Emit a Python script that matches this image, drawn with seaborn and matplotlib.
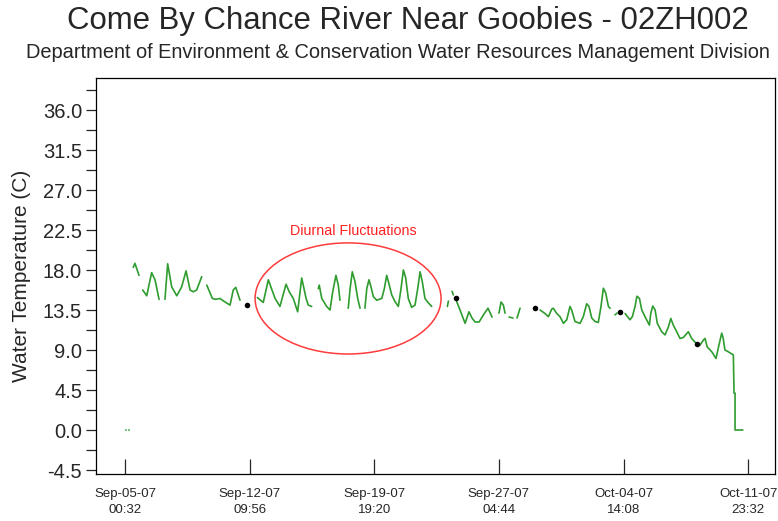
import numpy as np
import pandas as pd
import matplotlib
matplotlib.use('Agg')
import matplotlib.pyplot as plt
import matplotlib.dates as mdates
from matplotlib.patches import Ellipse
import seaborn as sns

sns.set_style('ticks')
plt.rcParams['font.family'] = ['Liberation Sans', 'DejaVu Sans']

nan = np.nan
start = pd.Timestamp('2007-09-05 00:32')

# logger record: days after Sep-05-07 00:32, nan = gap in the record
day = [0.49, 0.59, 0.83, nan,
       1.05, 1.29, 1.58, 1.78, 2.02, nan,
       2.37, 2.53, 2.77, 3.07, 3.36, 3.62, 3.86, 4.05, 4.25, 4.55, nan,
       4.85, 5.18, 5.38, 5.63, 5.93, 6.23, 6.42, 6.57, 6.82, nan,
       7.85, 8.20, 8.50, 8.90, 9.19, 9.55, 9.74, 9.98, 10.24, 10.48, 10.74, 10.87, 11.07, nan,
       11.46, 11.52, 11.67, 11.96, 12.16, 12.32, 12.51, 12.65, 12.75, nan,
       13.24, 13.35, 13.48, 13.64, 13.80, 13.94, nan,
       14.23, 14.34, 14.47, 14.59, 14.73, 14.93, 15.23, 15.38, 15.52, 15.62, 15.82, 16.01,
       16.21, 16.37, 16.51, 16.65, 16.80, 17.00, 17.20, 17.36, 17.50, 17.63, 17.79, 17.99, 18.19, nan,
       19.12, 19.18, nan,
       19.40, 19.47, nan,
       19.67, 19.87, 20.17, 20.40, 20.58, 20.76, 21.00, 21.29, 21.53, 21.77, nan,
       22.18, 22.30, 22.44, 22.54, nan,
       22.78, 23.01, nan,
       23.25, 23.43, nan,
       24.62, 24.91, 25.11, 25.31, 25.40, 25.61, 25.80, 26.00, 26.20, 26.39, 26.49, 26.69,
       26.99, 27.18, 27.38, 27.52, 27.68, 27.88, 28.07, 28.23, 28.37, 28.51, 28.67, 28.77, nan,
       29.06, 29.18, nan,
       29.66, 29.95, 30.09, 30.25, 30.36, 30.51, 30.65, 30.84, 31.10, 31.18, 31.30, 31.44,
       31.57, 31.83, 32.03, 32.23, 32.37, 32.52, 32.72, 32.92, 33.11, 33.41, 33.61, 33.87,
       34.10, 34.30, 34.40, 34.53, 34.80, 35.05, 35.25, 35.39, 35.48, 35.58, 35.78, 36.08,
       36.12, 36.18, 36.18, 36.64]
temp = [18.3, 18.75, 17.4, nan,
        15.75, 15.1, 17.7, 16.9, 14.7, nan,
        14.7, 18.7, 16.1, 15.1, 16.1, 17.9, 15.75, 15.55, 15.75, 17.25, nan,
        16.3, 14.8, 14.7, 14.8, 14.4, 14.05, 15.75, 16.05, 14.6, nan,
        14.9, 14.35, 16.9, 14.8, 13.9, 16.4, 15.55, 14.8, 13.3, 17.1, 14.8, 14.05, 13.9, nan,
        15.9, 16.3, 14.8, 13.9, 13.5, 15.55, 17.4, 16.3, 14.6, nan,
        13.7, 15.9, 17.8, 16.7, 14.8, 13.7, nan,
        13.7, 15.9, 16.9, 16.1, 15.0, 14.6, 14.8, 15.9, 17.4, 16.7, 15.2, 14.45,
        13.9, 15.9, 18.0, 17.1, 14.8, 13.8, 14.05, 15.9, 17.8, 16.7, 14.8, 14.3, 13.9, nan,
        13.9, 14.5, nan,
        15.6, 15.2, nan,
        14.45, 13.5, 12.0, 13.3, 12.6, 12.15, 12.15, 13.05, 13.7, 12.7, nan,
        13.15, 14.4, 14.05, 13.15, nan,
        12.7, 12.6, nan,
        12.6, 13.7, nan,
        13.5, 13.1, 12.75, 13.6, 13.7, 13.1, 12.75, 12.0, 12.4, 13.9, 13.5, 12.2,
        12.0, 12.75, 14.2, 13.9, 12.6, 12.2, 12.1, 13.9, 15.95, 15.4, 13.9, 13.7, nan,
        12.95, 13.15, nan,
        13.1, 12.4, 12.75, 13.9, 15.05, 14.8, 13.5, 12.75, 11.8, 13.1, 13.95, 13.5,
        12.0, 11.05, 10.7, 11.6, 12.55, 11.8, 11.05, 10.3, 10.4, 11.05, 10.3, 9.75,
        9.55, 10.1, 10.3, 9.35, 8.8, 8.05, 9.75, 10.9, 10.3, 9.0, 8.8, 8.45,
        4.15, 4.15, 0.0, 0.0]

# isolated zero readings at the start of the record
zero_day = [0.06, 0.24]
zero_temp = [0.0, 0.0]

# field check readings (black dots)
field_day = [7.22, 19.63, 24.32, 29.36, 33.94]
field_temp = [14.05, 14.8, 13.7, 13.3, 9.65]

tick_times = ['2007-09-05 00:32', '2007-09-12 09:56', '2007-09-19 19:20',
              '2007-09-27 04:44', '2007-10-04 14:08', '2007-10-11 23:32']
y_ticks = [-4.5, 0.0, 4.5, 9.0, 13.5, 18.0, 22.5, 27.0, 31.5, 36.0]

df = pd.DataFrame({'day': day, 'temp': temp})
df['seg'] = df['day'].isna().cumsum()
df = df.dropna()
df['time'] = start + pd.to_timedelta(df['day'], unit='D')

fig = plt.figure(figsize=(7.78, 5.21), dpi=100)
ax = fig.add_axes([96 / 778, 47 / 521, 679 / 778, 396 / 521])

sns.lineplot(data=df, x='time', y='temp', units='seg', estimator=None, sort=False,
             color='#2e9c2e', linewidth=1.2, ax=ax, legend=False)

zero_t = start + pd.to_timedelta(zero_day, unit='D')
ax.plot(zero_t, zero_temp, 's', color='#7cc47c', markersize=1.6, markeredgewidth=0)

field_t = start + pd.to_timedelta(field_day, unit='D')
sns.scatterplot(x=field_t, y=field_temp, color='black', s=16, linewidth=0, ax=ax, zorder=5)

# annotation ellipse around the diurnal cycles
c = mdates.date2num(start + pd.Timedelta(days=13.23))
ax.add_patch(Ellipse((c, 14.8), width=11.03, height=12.5, fill=False,
                     edgecolor='#ff3b3b', linewidth=1.1, zorder=4))
ax.text(mdates.date2num(start + pd.Timedelta(days=13.52)), 22.4, 'Diurnal Fluctuations',
        color='#ff2020', fontsize=10.3, ha='center', va='center')

ax.set_xlim(start - pd.Timedelta(days=1.72), start + pd.Timedelta(days=38.55))
ax.set_ylim(-4.95, 39.6)

ticks = pd.to_datetime(tick_times)
ax.set_xticks(ticks)
ax.set_xticklabels([t.strftime('%b-%d-%y\n%H:%M') for t in ticks], fontsize=9.5, linespacing=1.45)
ax.tick_params(axis='x', direction='in', length=11, width=0.9, pad=10)

ax.set_yticks(y_ticks)
ax.set_yticklabels([f'{v:.1f}' for v in y_ticks], fontsize=14.5)
ax.set_yticks(np.arange(-2.25, 39.6, 4.5), minor=True)
ax.tick_params(axis='y', which='major', direction='out', length=7.5, width=0.9, pad=2.5)
ax.tick_params(axis='y', which='minor', direction='out', length=7, width=0.9)

ax.set_xlabel('')
ax.set_ylabel('Water Temperature (C)', fontsize=15)
ax.yaxis.set_label_coords(-0.096, 0.5)

for s in ax.spines.values():
    s.set_linewidth(0.9)
    s.set_color('black')

fig.text(408 / 778, 1 - 21 / 521, 'Come By Chance River Near Goobies - 02ZH002',
         fontsize=22.4, ha='center', va='center')
fig.text(398 / 778, 1 - 52 / 521,
         'Department of Environment & Conservation Water Resources Management Division',
         fontsize=14.4, ha='center', va='center')

fig.savefig('out.png', dpi=100)
